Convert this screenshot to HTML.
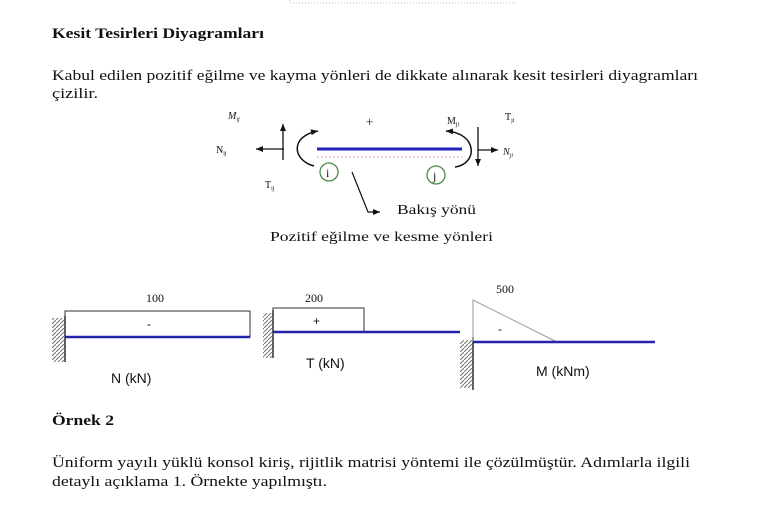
<!DOCTYPE html>
<html><head><meta charset="utf-8"><style>
html,body{margin:0;padding:0;background:#fff;}
svg{display:block;}
text{font-family:"Liberation Serif",serif;fill:#111;}
.s{font-family:"Liberation Sans",sans-serif;}
</style></head><body>
<svg width="760" height="520" viewBox="0 0 760 520" xmlns="http://www.w3.org/2000/svg">
<defs>
<marker id="a" markerWidth="8" markerHeight="8" refX="7" refY="4" orient="auto" markerUnits="userSpaceOnUse"><path d="M0,1 L7,4 L0,7 Z" fill="#111"/></marker>
<pattern id="h" width="4" height="4" patternUnits="userSpaceOnUse"><path d="M0,4 L4,0" stroke="#777" stroke-width="1"/></pattern>
</defs>
<path d="M290,0 V3 H515 V0" fill="none" stroke="#bbb" stroke-dasharray="1,2"/>
<text x="52" y="38" font-size="15" font-weight="bold" textLength="212" lengthAdjust="spacingAndGlyphs">Kesit Tesirleri Diyagramları</text>
<text x="52" y="80" font-size="15" textLength="646" lengthAdjust="spacingAndGlyphs">Kabul edilen pozitif eğilme ve kayma yönleri de dikkate alınarak kesit tesirleri diyagramları</text>
<text x="52" y="98" font-size="15" textLength="46" lengthAdjust="spacingAndGlyphs">çizilir.</text>

<!-- top figure -->
<line x1="317" y1="149" x2="462" y2="149" stroke="#2222bb" stroke-width="3"/>
<line x1="317" y1="157" x2="462" y2="157" stroke="#e0a0a0" stroke-width="1" stroke-dasharray="2,2"/>
<line x1="283" y1="160" x2="283" y2="124" stroke="#111" stroke-width="1.3" marker-end="url(#a)"/>
<line x1="284" y1="149" x2="256" y2="149" stroke="#111" stroke-width="1.3" marker-end="url(#a)"/>
<path d="M314,166 C292,160 290,136 318,131" fill="none" stroke="#111" stroke-width="1.5" marker-end="url(#a)"/>
<path d="M455,167 C478,164 478,133 446,131" fill="none" stroke="#111" stroke-width="1.5" marker-end="url(#a)"/>
<line x1="478" y1="127" x2="478" y2="166" stroke="#111" stroke-width="1.3" marker-end="url(#a)"/>
<line x1="478" y1="150" x2="498" y2="150" stroke="#111" stroke-width="1.3" marker-end="url(#a)"/>
<circle cx="329" cy="172" r="9" fill="#fff" stroke="#4a8a4a" stroke-width="1.3"/>
<text x="326" y="177" font-size="12">i</text>
<circle cx="436" cy="175" r="9" fill="#fff" stroke="#4a8a4a" stroke-width="1.3"/>
<text x="433" y="180" font-size="12">j</text>
<polyline points="352,172 368,212 380,212" fill="none" stroke="#111" stroke-width="1.2" marker-end="url(#a)"/>
<text x="228" y="119" font-size="10" font-style="italic">M<tspan font-size="6" dy="2">ij</tspan></text>
<text x="216" y="153" font-size="10">N<tspan font-size="6" dy="2">ij</tspan></text>
<text x="265" y="188" font-size="10">T<tspan font-size="6" dy="2">ij</tspan></text>
<text x="366" y="126" font-size="13" fill="#666">+</text>
<text x="447" y="124" font-size="10">M<tspan font-size="6" dy="2">ji</tspan></text>
<text x="505" y="120" font-size="10">T<tspan font-size="6" dy="2">ji</tspan></text>
<text x="503" y="155" font-size="10" font-style="italic">N<tspan font-size="6" dy="2">ji</tspan></text>
<text x="397" y="214" font-size="14" textLength="79" lengthAdjust="spacingAndGlyphs">Bakış yönü</text>
<text x="270" y="241" font-size="14" textLength="223" lengthAdjust="spacingAndGlyphs">Pozitif eğilme ve kesme yönleri</text>

<!-- N -->
<rect x="52" y="318" width="13" height="44" fill="url(#h)"/>
<line x1="65" y1="316" x2="65" y2="362" stroke="#333" stroke-width="1.5"/>
<rect x="65" y="311" width="185" height="26" fill="none" stroke="#333" stroke-width="1"/>
<line x1="65" y1="337" x2="250" y2="337" stroke="#2222aa" stroke-width="2.5"/>
<text x="146" y="302" font-size="12">100</text>
<text x="147" y="328" font-size="12" class="s">-</text>
<text x="111" y="383" font-size="14" class="s">N (kN)</text>

<!-- T -->
<rect x="263" y="313" width="10" height="45" fill="url(#h)"/>
<line x1="273" y1="310" x2="273" y2="358" stroke="#333" stroke-width="1.5"/>
<rect x="273" y="308" width="91" height="24" fill="none" stroke="#333" stroke-width="1"/>
<line x1="273" y1="332" x2="460" y2="332" stroke="#2222aa" stroke-width="2.5"/>
<text x="305" y="302" font-size="12">200</text>
<text x="313" y="325" font-size="12" class="s">+</text>
<text x="306" y="368" font-size="14" class="s">T (kN)</text>

<!-- M -->
<rect x="460" y="340" width="13" height="48" fill="url(#h)"/>
<line x1="473" y1="337" x2="473" y2="390" stroke="#333" stroke-width="1.5"/>
<polyline points="473,342 473,300 557,342" fill="none" stroke="#999" stroke-width="1"/>
<line x1="473" y1="342" x2="655" y2="342" stroke="#2222aa" stroke-width="2.5"/>
<text x="496" y="293" font-size="12">500</text>
<text x="498" y="333" font-size="12" class="s">-</text>
<text x="536" y="376" font-size="14" class="s">M (kNm)</text>

<text x="52" y="425" font-size="15" font-weight="bold" textLength="62" lengthAdjust="spacingAndGlyphs">Örnek 2</text>
<text x="52" y="467" font-size="15" textLength="638" lengthAdjust="spacingAndGlyphs">Üniform yayılı yüklü konsol kiriş, rijitlik matrisi yöntemi ile çözülmüştür. Adımlarla ilgili</text>
<text x="52" y="486" font-size="15" textLength="275" lengthAdjust="spacingAndGlyphs">detaylı açıklama 1. Örnekte yapılmıştı.</text>
</svg>
</body></html>
